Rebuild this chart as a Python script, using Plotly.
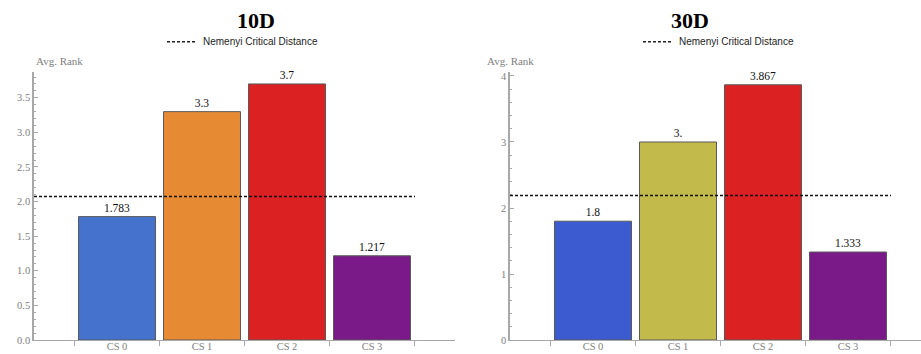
import plotly.graph_objects as go

W, H = 921, 354

categories = ["CS 0", "CS 1", "CS 2", "CS 3"]

titles = ["10D", "30D"]
ranks_10d = [1.783, 3.3, 3.7, 1.217]
ranks_30d = [1.8, 3.0, 3.867, 1.333]
critical_10d = 2.073
critical_30d = 2.189

colors_10d = ["#4472CC", "#E68A33", "#DB2121", "#7A1A88"]
colors_30d = ["#3D5BD1", "#C2BA4A", "#DB2121", "#7A1A88"]

y_max = [3.877, 4.065]
y_dtick = [0.5, 1]
y_minor = [0.1, 0.2]
y_format = [".1f", "d"]


def fmt(v):
    # Mathematica-style number display: integers keep a trailing dot
    if float(v).is_integer():
        return f"{int(v)}."
    return f"{v:g}"


def px(x):
    return x / W


def py(y):
    return 1 - y / H


SERIF = "Liberation Serif"
SANS = "Liberation Sans"
AXIS_COLOR = "#A8A8A8"
TICK_FONT = dict(family=SERIF, size=10.5, color="#808080")

fig = go.Figure()

panels = [
    dict(ranks=ranks_10d, cd=critical_10d, colors=colors_10d, x0=34, x1=455, title_x=235, leg_x=167),
    dict(ranks=ranks_30d, cd=critical_30d, colors=colors_30d, x0=510, x1=921, title_x=711, leg_x=643),
]

px_per_cat = 85
for i, p in enumerate(panels):
    xa = "x" if i == 0 else f"x{i + 1}"
    ya = "y" if i == 0 else f"y{i + 1}"
    left = -(117 - 34) / px_per_cat
    right = left + (p["x1"] - p["x0"]) / px_per_cat
    value_font = dict(family=SERIF, size=11.5, color=["#111111"] * len(p["ranks"]))

    fig.add_trace(go.Bar(
        x=categories, y=p["ranks"], xaxis=xa, yaxis=ya,
        marker=dict(color=p["colors"], line=dict(color="#5A5A5A", width=1)),
        text=[fmt(v) for v in p["ranks"]], textposition="outside",
        textfont=value_font, outsidetextfont=value_font,
        cliponaxis=False, width=77 / px_per_cat, showlegend=False,
        hoverinfo="x+y",
    ))

    # Nemenyi critical distance line
    fig.add_shape(type="line", xref=xa, yref=ya, x0=left, x1=3.506,
                  y0=p["cd"], y1=p["cd"],
                  line=dict(color="#111111", width=1.6, dash="3px,2px"))

    xkey = "xaxis" if i == 0 else f"xaxis{i + 1}"
    ykey = "yaxis" if i == 0 else f"yaxis{i + 1}"
    fig.update_layout({
        xkey: dict(
            domain=[px(p["x0"]), px(min(p["x1"], W))], anchor=ya,
            type="category", range=[left, right], automargin=False,
            showline=True, linecolor=AXIS_COLOR, linewidth=1.3,
            ticks="outside", tickson="boundaries", ticklen=5,
            ticklabelstandoff=-4,
            tickcolor=AXIS_COLOR, tickfont=TICK_FONT,
            showgrid=False, zeroline=False,
        ),
        ykey: dict(
            domain=[py(340), py(71.7)], anchor=xa, automargin=False,
            range=[0, y_max[i]], dtick=y_dtick[i], tickformat=y_format[i],
            showline=True, linecolor=AXIS_COLOR, linewidth=1.5,
            ticks="inside", ticklen=4, tickcolor=AXIS_COLOR,
            minor=dict(dtick=y_minor[i], ticks="inside", ticklen=2, tickcolor=AXIS_COLOR),
            tickfont=TICK_FONT, showgrid=False, zeroline=False,
        ),
    })

    # panel title
    fig.add_annotation(xref="paper", yref="paper", x=px(p["title_x"]), y=py(20),
                       yanchor="middle", text=f"<b>{titles[i]}</b>", showarrow=False,
                       font=dict(family=SERIF, size=22, color="#000000"))
    # legend entry
    fig.add_shape(type="line", xref="paper", yref="paper",
                  x0=px(p["leg_x"]), x1=px(p["leg_x"] + 28), y0=py(41.7), y1=py(41.7),
                  line=dict(color="#222222", width=1.6, dash="3px,2px"))
    fig.add_annotation(xref="paper", yref="paper", x=px(p["leg_x"] + 34), y=py(41.7),
                       xanchor="left", yanchor="middle", text="Nemenyi Critical Distance",
                       showarrow=False, font=dict(family=SANS, size=10, color="#222222"))
    # axis label
    fig.add_annotation(xref="paper", yref="paper", x=px(p["x0"]), y=py(61),
                       yanchor="middle", text="Avg. Rank", showarrow=False,
                       font=dict(family=SERIF, size=11, color="#808080"))

fig.update_layout(
    width=W, height=H, margin=dict(l=0, r=0, t=0, b=0, pad=0, autoexpand=False),
    paper_bgcolor="white", plot_bgcolor="white",
    bargap=0.094,
)

fig.write_html("out.html")
